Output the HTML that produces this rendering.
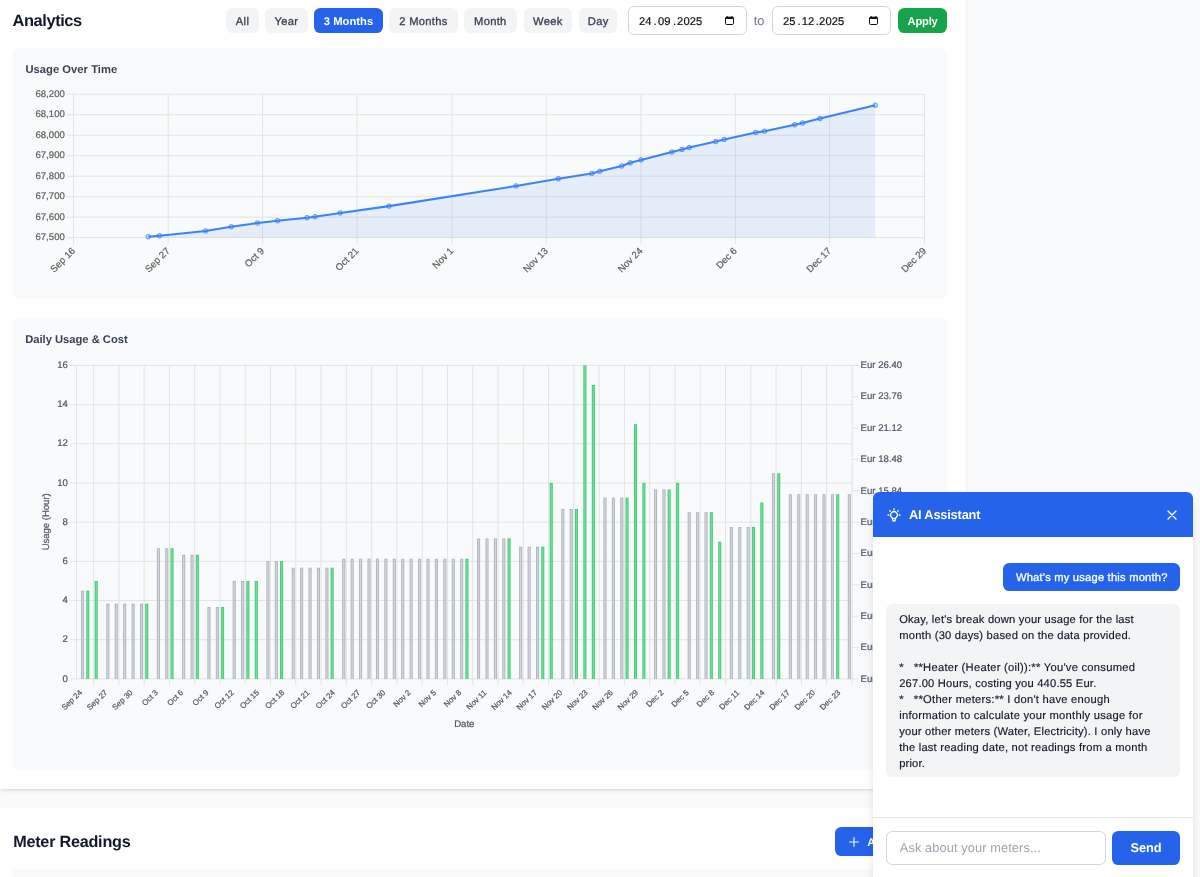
<!DOCTYPE html>
<html lang="en"><head><meta charset="utf-8"><title>Analytics</title>
<style>
*{box-sizing:border-box;margin:0;padding:0}
html,body{width:1200px;height:877px;overflow:hidden}
body{text-rendering:geometricPrecision;background:#f9fafb;font-family:"Liberation Sans", sans-serif;position:relative;color:#111827}
.t{position:absolute;white-space:pre}
.panel{position:absolute;background:#fff}
.card{position:absolute;background:#f9fafb;border-radius:6.4px}
.btn{position:absolute;top:7.8px;height:25px;border-radius:6.4px;background:#f3f4f6;color:#374151;font-size:11.2px;line-height:28.6px;text-align:center;white-space:pre;letter-spacing:0.3px;-webkit-text-stroke:0.3px #374151}
.btn.on{background:#2563eb;color:#fff;font-weight:700;letter-spacing:0.05px;-webkit-text-stroke:0}
.date{position:absolute;top:6.2px;height:28.6px;border:1px solid #d1d5db;border-radius:6px;background:#fff}
svg{position:absolute;left:0;top:0;overflow:visible}
svg text{font-family:"Liberation Sans", sans-serif;text-rendering:geometricPrecision;stroke-width:0.2px;paint-order:stroke}
svg .c1 text{stroke:#5c5c5c}
svg .c2 text{stroke:#4b5563}
</style></head><body>

<div class="panel" style="left:0;top:-20px;width:966px;height:809.2px;box-shadow:0 3.2px 4.8px -0.8px rgba(0,0,0,.1),0 1.6px 3.2px -1.6px rgba(0,0,0,.1)"></div>
<div class="panel" style="left:0;top:807.8px;width:966px;height:120px;box-shadow:0 3.2px 4.8px -0.8px rgba(0,0,0,.1),0 1.6px 3.2px -1.6px rgba(0,0,0,.1)"></div>
<div class="t" style="left:12.60px;top:9.02px;font-size:16.40px;line-height:24.60px;font-weight:700;color:#111827;letter-spacing:-0.415px;">Analytics</div>
<div class="btn" style="left:226.0px;width:33.0px">All</div>
<div class="btn" style="left:265.0px;width:42.8px">Year</div>
<div class="btn on" style="left:314.0px;width:69.0px">3 Months</div>
<div class="btn" style="left:389.3px;width:68.4px">2 Months</div>
<div class="btn" style="left:464.0px;width:52.7px">Month</div>
<div class="btn" style="left:524.0px;width:47.7px">Week</div>
<div class="btn" style="left:579.0px;width:38.3px">Day</div>
<div class="date" style="left:627.8px;width:118.8px">
<svg width="9" height="9" viewBox="0 0 9 9" style="left:96.3px;top:9.3px"><rect x="0.5" y="1.2" width="8" height="7.3" rx="1.2" fill="none" stroke="#111" stroke-width="1"/><rect x="0.5" y="1" width="8" height="2" fill="#111"/><rect x="1.6" y="0" width="1.1" height="1.6" fill="#111"/><rect x="6.3" y="0" width="1.1" height="1.6" fill="#111"/></svg>
</div>
<div class="date" style="left:771.8px;width:118.8px">
<svg width="9" height="9" viewBox="0 0 9 9" style="left:96.3px;top:9.3px"><rect x="0.5" y="1.2" width="8" height="7.3" rx="1.2" fill="none" stroke="#111" stroke-width="1"/><rect x="0.5" y="1" width="8" height="2" fill="#111"/><rect x="1.6" y="0" width="1.1" height="1.6" fill="#111"/><rect x="6.3" y="0" width="1.1" height="1.6" fill="#111"/></svg>
</div>
<div class="t" style="left:639.10px;top:14.12px;font-size:11.2px;line-height:16px;color:#111;-webkit-text-stroke:0.2px #111;">24<span style="margin:0 1.40px 0 1.94px">.</span>09<span style="margin:0 1.00px 0 2.54px">.</span><span style="letter-spacing:0.12px">2025</span></div>
<div class="t" style="left:783.10px;top:14.12px;font-size:11.2px;line-height:16px;color:#111;-webkit-text-stroke:0.2px #111;">25<span style="margin:0 1.20px 0 1.94px">.</span>12<span style="margin:0 0.20px 0 1.54px">.</span><span style="letter-spacing:0.12px">2025</span></div>
<div class="t" style="left:753.80px;top:10.96px;font-size:12.80px;line-height:19.20px;color:#6b7280;">to</div>
<div class="btn" style="left:898.2px;width:48.8px;background:#16a34a;color:#fff;font-weight:700;letter-spacing:-0.2px;-webkit-text-stroke:0">Apply</div>
<div class="card" style="left:13px;top:48px;width:933.8px;height:250.5px"></div>
<div class="card" style="left:13px;top:318px;width:933.8px;height:451.6px"></div>
<div class="card" style="left:13px;top:869.2px;width:933.8px;height:60px;border-radius:0"></div>
<div class="t" style="left:25.40px;top:61.52px;font-size:11.20px;line-height:16.80px;font-weight:700;color:#374151;letter-spacing:0.042px;">Usage Over Time</div>
<div class="t" style="left:25.20px;top:331.52px;font-size:11.20px;line-height:16.80px;font-weight:700;color:#374151;letter-spacing:-0.006px;">Daily Usage &amp; Cost</div>
<div class="t" style="left:13.20px;top:830.04px;font-size:16.20px;line-height:24.30px;font-weight:700;color:#111827;letter-spacing:-0.233px;">Meter Readings</div>
<div style="position:absolute;left:835px;top:827px;width:120px;height:29px;border-radius:6.4px;background:#2563eb"></div>
<svg width="12" height="12" viewBox="0 0 12 12" style="left:848.3px;top:835.5px"><path d="M6 1.2v9.6M1.2 6h9.6" stroke="#fff" stroke-width="1.1" fill="none"/></svg>
<div class="t" style="left:867.30px;top:835.42px;font-size:11.20px;line-height:16.80px;font-weight:700;color:#fff;">Add Reading</div>
<svg width="1200" height="877" viewBox="0 0 1200 877">
<g class="c1">
<path d="M67.10 94.30H924.50M67.10 114.77H924.50M67.10 135.24H924.50M67.10 155.71H924.50M67.10 176.19H924.50M67.10 196.66H924.50M67.10 217.13H924.50M67.10 237.60H924.50M73.50 94.30V244.00M168.20 94.30V244.00M262.55 94.30V244.00M357.00 94.30V244.00M451.85 94.30V244.00M546.25 94.30V244.00M640.95 94.30V244.00M735.40 94.30V244.00M829.55 94.30V244.00M924.50 94.30V244.00" stroke="#dbdcde" stroke-width="0.75" fill="none"/>
<polygon points="148.25,236.75 159.50,235.75 205.50,231.00 231.25,226.75 257.50,223.00 277.50,220.75 307.00,217.75 315.00,216.75 340.25,213.00 389.00,206.10 516.00,186.00 558.25,178.75 591.75,173.50 599.75,171.25 621.75,166.00 630.25,162.75 641.00,159.90 671.90,152.00 682.00,149.50 689.25,147.50 715.75,141.50 724.25,139.50 755.75,132.50 764.50,131.25 794.75,124.75 802.50,123.00 820.00,118.50 875.25,105.25 875.25,237.60 148.25,237.60" fill="rgba(59,130,246,0.1)"/>
<polyline points="148.25,236.75 159.50,235.75 205.50,231.00 231.25,226.75 257.50,223.00 277.50,220.75 307.00,217.75 315.00,216.75 340.25,213.00 389.00,206.10 516.00,186.00 558.25,178.75 591.75,173.50 599.75,171.25 621.75,166.00 630.25,162.75 641.00,159.90 671.90,152.00 682.00,149.50 689.25,147.50 715.75,141.50 724.25,139.50 755.75,132.50 764.50,131.25 794.75,124.75 802.50,123.00 820.00,118.50 875.25,105.25" fill="none" stroke="#3b82f6" stroke-width="2.1" stroke-linejoin="round"/>
<circle cx="148.25" cy="236.75" r="2.3" fill="rgba(59,130,246,0.25)" stroke="#3b82f6" stroke-width="0.8"/>
<circle cx="159.50" cy="235.75" r="2.3" fill="rgba(59,130,246,0.25)" stroke="#3b82f6" stroke-width="0.8"/>
<circle cx="205.50" cy="231.00" r="2.3" fill="rgba(59,130,246,0.25)" stroke="#3b82f6" stroke-width="0.8"/>
<circle cx="231.25" cy="226.75" r="2.3" fill="rgba(59,130,246,0.25)" stroke="#3b82f6" stroke-width="0.8"/>
<circle cx="257.50" cy="223.00" r="2.3" fill="rgba(59,130,246,0.25)" stroke="#3b82f6" stroke-width="0.8"/>
<circle cx="277.50" cy="220.75" r="2.3" fill="rgba(59,130,246,0.25)" stroke="#3b82f6" stroke-width="0.8"/>
<circle cx="307.00" cy="217.75" r="2.3" fill="rgba(59,130,246,0.25)" stroke="#3b82f6" stroke-width="0.8"/>
<circle cx="315.00" cy="216.75" r="2.3" fill="rgba(59,130,246,0.25)" stroke="#3b82f6" stroke-width="0.8"/>
<circle cx="340.25" cy="213.00" r="2.3" fill="rgba(59,130,246,0.25)" stroke="#3b82f6" stroke-width="0.8"/>
<circle cx="389.00" cy="206.10" r="2.3" fill="rgba(59,130,246,0.25)" stroke="#3b82f6" stroke-width="0.8"/>
<circle cx="516.00" cy="186.00" r="2.3" fill="rgba(59,130,246,0.25)" stroke="#3b82f6" stroke-width="0.8"/>
<circle cx="558.25" cy="178.75" r="2.3" fill="rgba(59,130,246,0.25)" stroke="#3b82f6" stroke-width="0.8"/>
<circle cx="591.75" cy="173.50" r="2.3" fill="rgba(59,130,246,0.25)" stroke="#3b82f6" stroke-width="0.8"/>
<circle cx="599.75" cy="171.25" r="2.3" fill="rgba(59,130,246,0.25)" stroke="#3b82f6" stroke-width="0.8"/>
<circle cx="621.75" cy="166.00" r="2.3" fill="rgba(59,130,246,0.25)" stroke="#3b82f6" stroke-width="0.8"/>
<circle cx="630.25" cy="162.75" r="2.3" fill="rgba(59,130,246,0.25)" stroke="#3b82f6" stroke-width="0.8"/>
<circle cx="641.00" cy="159.90" r="2.3" fill="rgba(59,130,246,0.25)" stroke="#3b82f6" stroke-width="0.8"/>
<circle cx="671.90" cy="152.00" r="2.3" fill="rgba(59,130,246,0.25)" stroke="#3b82f6" stroke-width="0.8"/>
<circle cx="682.00" cy="149.50" r="2.3" fill="rgba(59,130,246,0.25)" stroke="#3b82f6" stroke-width="0.8"/>
<circle cx="689.25" cy="147.50" r="2.3" fill="rgba(59,130,246,0.25)" stroke="#3b82f6" stroke-width="0.8"/>
<circle cx="715.75" cy="141.50" r="2.3" fill="rgba(59,130,246,0.25)" stroke="#3b82f6" stroke-width="0.8"/>
<circle cx="724.25" cy="139.50" r="2.3" fill="rgba(59,130,246,0.25)" stroke="#3b82f6" stroke-width="0.8"/>
<circle cx="755.75" cy="132.50" r="2.3" fill="rgba(59,130,246,0.25)" stroke="#3b82f6" stroke-width="0.8"/>
<circle cx="764.50" cy="131.25" r="2.3" fill="rgba(59,130,246,0.25)" stroke="#3b82f6" stroke-width="0.8"/>
<circle cx="794.75" cy="124.75" r="2.3" fill="rgba(59,130,246,0.25)" stroke="#3b82f6" stroke-width="0.8"/>
<circle cx="802.50" cy="123.00" r="2.3" fill="rgba(59,130,246,0.25)" stroke="#3b82f6" stroke-width="0.8"/>
<circle cx="820.00" cy="118.50" r="2.3" fill="rgba(59,130,246,0.25)" stroke="#3b82f6" stroke-width="0.8"/>
<circle cx="875.25" cy="105.25" r="2.3" fill="rgba(59,130,246,0.25)" stroke="#3b82f6" stroke-width="0.8"/>
<text x="64.8" y="97.00" text-anchor="end" font-size="9.6" fill="#5c5c5c">68,200</text>
<text x="64.8" y="117.47" text-anchor="end" font-size="9.6" fill="#5c5c5c">68,100</text>
<text x="64.8" y="137.94" text-anchor="end" font-size="9.6" fill="#5c5c5c">68,000</text>
<text x="64.8" y="158.41" text-anchor="end" font-size="9.6" fill="#5c5c5c">67,900</text>
<text x="64.8" y="178.89" text-anchor="end" font-size="9.6" fill="#5c5c5c">67,800</text>
<text x="64.8" y="199.36" text-anchor="end" font-size="9.6" fill="#5c5c5c">67,700</text>
<text x="64.8" y="219.83" text-anchor="end" font-size="9.6" fill="#5c5c5c">67,600</text>
<text x="64.8" y="240.30" text-anchor="end" font-size="9.6" fill="#5c5c5c">67,500</text>
<text transform="translate(73.30 249.00) rotate(-45)" y="3.4" text-anchor="end" font-size="9.6" fill="#5c5c5c">Sep 16</text>
<text transform="translate(168.00 249.00) rotate(-45)" y="3.4" text-anchor="end" font-size="9.6" fill="#5c5c5c">Sep 27</text>
<text transform="translate(262.35 249.00) rotate(-45)" y="3.4" text-anchor="end" font-size="9.6" fill="#5c5c5c">Oct 9</text>
<text transform="translate(356.80 249.00) rotate(-45)" y="3.4" text-anchor="end" font-size="9.6" fill="#5c5c5c">Oct 21</text>
<text transform="translate(451.65 249.00) rotate(-45)" y="3.4" text-anchor="end" font-size="9.6" fill="#5c5c5c">Nov 1</text>
<text transform="translate(546.05 249.00) rotate(-45)" y="3.4" text-anchor="end" font-size="9.6" fill="#5c5c5c">Nov 13</text>
<text transform="translate(640.75 249.00) rotate(-45)" y="3.4" text-anchor="end" font-size="9.6" fill="#5c5c5c">Nov 24</text>
<text transform="translate(735.20 249.00) rotate(-45)" y="3.4" text-anchor="end" font-size="9.6" fill="#5c5c5c">Dec 6</text>
<text transform="translate(829.35 249.00) rotate(-45)" y="3.4" text-anchor="end" font-size="9.6" fill="#5c5c5c">Dec 17</text>
<text transform="translate(924.30 249.00) rotate(-45)" y="3.4" text-anchor="end" font-size="9.6" fill="#5c5c5c">Dec 29</text>
</g><g class="c2">
<path d="M70.10 365.40H852.20M70.10 404.59H852.20M70.10 443.77H852.20M70.10 482.96H852.20M70.10 522.15H852.20M70.10 561.34H852.20M70.10 600.52H852.20M70.10 639.71H852.20M70.10 678.90H852.20M852.20 365.40H858.60M852.20 396.75H858.60M852.20 428.10H858.60M852.20 459.45H858.60M852.20 490.80H858.60M852.20 522.15H858.60M852.20 553.50H858.60M852.20 584.85H858.60M852.20 616.20H858.60M852.20 647.55H858.60M852.20 678.90H858.60M76.50 365.40V678.90M852.20 365.40V685.30M93.59 365.40V685.30M118.87 365.40V685.30M144.14 365.40V685.30M169.42 365.40V685.30M194.70 365.40V685.30M219.98 365.40V685.30M245.26 365.40V685.30M270.53 365.40V685.30M295.81 365.40V685.30M321.09 365.40V685.30M346.37 365.40V685.30M371.65 365.40V685.30M396.92 365.40V685.30M422.20 365.40V685.30M447.48 365.40V685.30M472.76 365.40V685.30M498.04 365.40V685.30M523.31 365.40V685.30M548.59 365.40V685.30M573.87 365.40V685.30M599.15 365.40V685.30M624.43 365.40V685.30M649.71 365.40V685.30M674.98 365.40V685.30M700.26 365.40V685.30M725.54 365.40V685.30M750.82 365.40V685.30M776.10 365.40V685.30M801.37 365.40V685.30M826.65 365.40V685.30" stroke="#dbdcde" stroke-width="0.75" fill="none"/>
<path d="M81.03 678.90H84.07V590.73H81.03ZM106.31 678.90H109.35V603.86H106.31ZM114.73 678.90H117.77V603.86H114.73ZM123.16 678.90H126.20V603.86H123.16ZM131.59 678.90H134.63V603.86H131.59ZM140.01 678.90H143.05V603.86H140.01ZM156.86 678.90H159.90V548.21H156.86ZM165.29 678.90H168.33V548.21H165.29ZM182.14 678.90H185.18V554.87H182.14ZM190.57 678.90H193.61V554.87H190.57ZM207.42 678.90H210.46V606.99H207.42ZM215.85 678.90H218.89V606.99H215.85ZM232.70 678.90H235.74V580.93H232.70ZM241.12 678.90H244.16V580.93H241.12ZM266.40 678.90H269.44V561.34H266.40ZM274.83 678.90H277.87V561.34H274.83ZM291.68 678.90H294.72V567.80H291.68ZM300.11 678.90H303.15V567.80H300.11ZM308.53 678.90H311.57V567.80H308.53ZM316.96 678.90H320.00V567.80H316.96ZM325.38 678.90H328.42V567.80H325.38ZM342.24 678.90H345.28V558.79H342.24ZM350.66 678.90H353.70V558.79H350.66ZM359.09 678.90H362.13V558.79H359.09ZM367.51 678.90H370.55V558.79H367.51ZM375.94 678.90H378.98V558.79H375.94ZM384.37 678.90H387.41V558.79H384.37ZM392.79 678.90H395.83V558.79H392.79ZM401.22 678.90H404.26V558.79H401.22ZM409.64 678.90H412.68V558.79H409.64ZM418.07 678.90H421.11V558.79H418.07ZM426.50 678.90H429.54V558.79H426.50ZM434.92 678.90H437.96V558.79H434.92ZM443.35 678.90H446.39V558.79H443.35ZM451.77 678.90H454.81V558.79H451.77ZM460.20 678.90H463.24V558.79H460.20ZM477.05 678.90H480.09V538.41H477.05ZM485.48 678.90H488.52V538.41H485.48ZM493.90 678.90H496.94V538.41H493.90ZM502.33 678.90H505.37V538.41H502.33ZM519.18 678.90H522.22V546.64H519.18ZM527.61 678.90H530.65V546.64H527.61ZM536.03 678.90H539.07V546.64H536.03ZM561.31 678.90H564.35V509.02H561.31ZM569.74 678.90H572.78V509.02H569.74ZM603.44 678.90H606.48V497.66H603.44ZM611.87 678.90H614.91V497.66H611.87ZM620.29 678.90H623.33V497.66H620.29ZM654.00 678.90H657.04V489.43H654.00ZM662.42 678.90H665.46V489.43H662.42ZM687.70 678.90H690.74V512.35H687.70ZM696.13 678.90H699.17V512.35H696.13ZM704.55 678.90H707.59V512.35H704.55ZM729.83 678.90H732.87V527.05H729.83ZM738.26 678.90H741.30V527.05H738.26ZM746.68 678.90H749.72V527.05H746.68ZM771.96 678.90H775.00V473.17H771.96ZM788.81 678.90H791.85V494.13H788.81ZM797.24 678.90H800.28V494.13H797.24ZM805.67 678.90H808.71V494.13H805.67ZM814.09 678.90H817.13V494.13H814.09ZM822.52 678.90H825.56V494.13H822.52ZM830.94 678.90H833.98V494.13H830.94ZM847.80 678.90H850.84V494.13H847.80Z" fill="rgba(156,163,175,0.85)"/>
<path d="M81.83 678.90H83.27V591.53H81.83ZM107.11 678.90H108.55V604.66H107.11ZM115.53 678.90H116.97V604.66H115.53ZM123.96 678.90H125.40V604.66H123.96ZM132.39 678.90H133.83V604.66H132.39ZM140.81 678.90H142.25V604.66H140.81ZM157.66 678.90H159.10V549.01H157.66ZM166.09 678.90H167.53V549.01H166.09ZM182.94 678.90H184.38V555.67H182.94ZM191.37 678.90H192.81V555.67H191.37ZM208.22 678.90H209.66V607.79H208.22ZM216.65 678.90H218.09V607.79H216.65ZM233.50 678.90H234.94V581.73H233.50ZM241.92 678.90H243.36V581.73H241.92ZM267.20 678.90H268.64V562.14H267.20ZM275.63 678.90H277.07V562.14H275.63ZM292.48 678.90H293.92V568.60H292.48ZM300.91 678.90H302.35V568.60H300.91ZM309.33 678.90H310.77V568.60H309.33ZM317.76 678.90H319.20V568.60H317.76ZM326.18 678.90H327.62V568.60H326.18ZM343.04 678.90H344.48V559.59H343.04ZM351.46 678.90H352.90V559.59H351.46ZM359.89 678.90H361.33V559.59H359.89ZM368.31 678.90H369.75V559.59H368.31ZM376.74 678.90H378.18V559.59H376.74ZM385.17 678.90H386.61V559.59H385.17ZM393.59 678.90H395.03V559.59H393.59ZM402.02 678.90H403.46V559.59H402.02ZM410.44 678.90H411.88V559.59H410.44ZM418.87 678.90H420.31V559.59H418.87ZM427.30 678.90H428.74V559.59H427.30ZM435.72 678.90H437.16V559.59H435.72ZM444.15 678.90H445.59V559.59H444.15ZM452.57 678.90H454.01V559.59H452.57ZM461.00 678.90H462.44V559.59H461.00ZM477.85 678.90H479.29V539.21H477.85ZM486.28 678.90H487.72V539.21H486.28ZM494.70 678.90H496.14V539.21H494.70ZM503.13 678.90H504.57V539.21H503.13ZM519.98 678.90H521.42V547.44H519.98ZM528.41 678.90H529.85V547.44H528.41ZM536.83 678.90H538.27V547.44H536.83ZM562.11 678.90H563.55V509.82H562.11ZM570.54 678.90H571.98V509.82H570.54ZM604.24 678.90H605.68V498.46H604.24ZM612.67 678.90H614.11V498.46H612.67ZM621.09 678.90H622.53V498.46H621.09ZM654.80 678.90H656.24V490.23H654.80ZM663.22 678.90H664.66V490.23H663.22ZM688.50 678.90H689.94V513.15H688.50ZM696.93 678.90H698.37V513.15H696.93ZM705.35 678.90H706.79V513.15H705.35ZM730.63 678.90H732.07V527.85H730.63ZM739.06 678.90H740.50V527.85H739.06ZM747.48 678.90H748.92V527.85H747.48ZM772.76 678.90H774.20V473.97H772.76ZM789.61 678.90H791.05V494.93H789.61ZM798.04 678.90H799.48V494.93H798.04ZM806.47 678.90H807.91V494.93H806.47ZM814.89 678.90H816.33V494.93H814.89ZM823.32 678.90H824.76V494.93H823.32ZM831.74 678.90H833.18V494.93H831.74ZM848.60 678.90H850.04V494.93H848.60Z" fill="#d1d4db"/>
<path d="M86.26 678.90H89.30V590.73H86.26ZM94.68 678.90H97.72V580.93H94.68ZM145.24 678.90H148.28V603.86H145.24ZM170.52 678.90H173.56V548.21H170.52ZM195.79 678.90H198.83V554.87H195.79ZM221.07 678.90H224.11V606.99H221.07ZM246.35 678.90H249.39V580.93H246.35ZM254.78 678.90H257.82V580.93H254.78ZM280.05 678.90H283.09V561.34H280.05ZM330.61 678.90H333.65V567.80H330.61ZM465.43 678.90H468.47V558.79H465.43ZM507.56 678.90H510.60V538.41H507.56ZM541.26 678.90H544.30V546.64H541.26ZM549.69 678.90H552.73V482.96H549.69ZM574.96 678.90H578.00V509.02H574.96ZM583.39 678.90H586.43V365.40H583.39ZM591.82 678.90H594.86V384.99H591.82ZM625.52 678.90H628.56V497.66H625.52ZM633.95 678.90H636.99V424.18H633.95ZM642.37 678.90H645.41V482.96H642.37ZM667.65 678.90H670.69V489.43H667.65ZM676.08 678.90H679.12V482.96H676.08ZM709.78 678.90H712.82V512.35H709.78ZM718.21 678.90H721.25V541.74H718.21ZM751.91 678.90H754.95V527.05H751.91ZM760.34 678.90H763.38V502.56H760.34ZM777.19 678.90H780.23V473.17H777.19ZM836.17 678.90H839.21V494.13H836.17Z" fill="rgba(34,197,94,0.9)"/>
<path d="M87.06 678.90H88.50V591.53H87.06ZM95.48 678.90H96.92V581.73H95.48ZM146.04 678.90H147.48V604.66H146.04ZM171.32 678.90H172.76V549.01H171.32ZM196.59 678.90H198.03V555.67H196.59ZM221.87 678.90H223.31V607.79H221.87ZM247.15 678.90H248.59V581.73H247.15ZM255.58 678.90H257.02V581.73H255.58ZM280.85 678.90H282.29V562.14H280.85ZM331.41 678.90H332.85V568.60H331.41ZM466.23 678.90H467.67V559.59H466.23ZM508.36 678.90H509.80V539.21H508.36ZM542.06 678.90H543.50V547.44H542.06ZM550.49 678.90H551.93V483.76H550.49ZM575.76 678.90H577.20V509.82H575.76ZM584.19 678.90H585.63V366.20H584.19ZM592.62 678.90H594.06V385.79H592.62ZM626.32 678.90H627.76V498.46H626.32ZM634.75 678.90H636.19V424.98H634.75ZM643.17 678.90H644.61V483.76H643.17ZM668.45 678.90H669.89V490.23H668.45ZM676.88 678.90H678.32V483.76H676.88ZM710.58 678.90H712.02V513.15H710.58ZM719.01 678.90H720.45V542.54H719.01ZM752.71 678.90H754.15V527.85H752.71ZM761.14 678.90H762.58V503.36H761.14ZM777.99 678.90H779.43V473.97H777.99ZM836.97 678.90H838.41V494.93H836.97Z" fill="#76d99d"/>
<text x="67.8" y="368.10" text-anchor="end" font-size="9.6" fill="#4b5563">16</text>
<text x="67.8" y="407.29" text-anchor="end" font-size="9.6" fill="#4b5563">14</text>
<text x="67.8" y="446.47" text-anchor="end" font-size="9.6" fill="#4b5563">12</text>
<text x="67.8" y="485.66" text-anchor="end" font-size="9.6" fill="#4b5563">10</text>
<text x="67.8" y="524.85" text-anchor="end" font-size="9.6" fill="#4b5563">8</text>
<text x="67.8" y="564.04" text-anchor="end" font-size="9.6" fill="#4b5563">6</text>
<text x="67.8" y="603.23" text-anchor="end" font-size="9.6" fill="#4b5563">4</text>
<text x="67.8" y="642.41" text-anchor="end" font-size="9.6" fill="#4b5563">2</text>
<text x="67.8" y="681.60" text-anchor="end" font-size="9.6" fill="#4b5563">0</text>
<text x="860.6" y="368.10" font-size="9.6" fill="#4b5563">Eur 26.40</text>
<text x="860.6" y="399.45" font-size="9.6" fill="#4b5563">Eur 23.76</text>
<text x="860.6" y="430.80" font-size="9.6" fill="#4b5563">Eur 21.12</text>
<text x="860.6" y="462.15" font-size="9.6" fill="#4b5563">Eur 18.48</text>
<text x="860.6" y="493.50" font-size="9.6" fill="#4b5563">Eur 15.84</text>
<text x="860.6" y="524.85" font-size="9.6" fill="#4b5563">Eur 13.20</text>
<text x="860.6" y="556.20" font-size="9.6" fill="#4b5563">Eur 10.56</text>
<text x="860.6" y="587.55" font-size="9.6" fill="#4b5563">Eur 7.92</text>
<text x="860.6" y="618.90" font-size="9.6" fill="#4b5563">Eur 5.28</text>
<text x="860.6" y="650.25" font-size="9.6" fill="#4b5563">Eur 2.64</text>
<text x="860.6" y="681.60" font-size="9.6" fill="#4b5563">Eur -0.00</text>
<text transform="translate(80.65 691.10) rotate(-44)" y="2.9" text-anchor="end" font-size="7.9" fill="#4b5563">Sep 24</text>
<text transform="translate(105.93 691.10) rotate(-44)" y="2.9" text-anchor="end" font-size="7.9" fill="#4b5563">Sep 27</text>
<text transform="translate(131.21 691.10) rotate(-44)" y="2.9" text-anchor="end" font-size="7.9" fill="#4b5563">Sep 30</text>
<text transform="translate(156.48 691.10) rotate(-44)" y="2.9" text-anchor="end" font-size="7.9" fill="#4b5563">Oct 3</text>
<text transform="translate(181.76 691.10) rotate(-44)" y="2.9" text-anchor="end" font-size="7.9" fill="#4b5563">Oct 6</text>
<text transform="translate(207.04 691.10) rotate(-44)" y="2.9" text-anchor="end" font-size="7.9" fill="#4b5563">Oct 9</text>
<text transform="translate(232.32 691.10) rotate(-44)" y="2.9" text-anchor="end" font-size="7.9" fill="#4b5563">Oct 12</text>
<text transform="translate(257.60 691.10) rotate(-44)" y="2.9" text-anchor="end" font-size="7.9" fill="#4b5563">Oct 15</text>
<text transform="translate(282.87 691.10) rotate(-44)" y="2.9" text-anchor="end" font-size="7.9" fill="#4b5563">Oct 18</text>
<text transform="translate(308.15 691.10) rotate(-44)" y="2.9" text-anchor="end" font-size="7.9" fill="#4b5563">Oct 21</text>
<text transform="translate(333.43 691.10) rotate(-44)" y="2.9" text-anchor="end" font-size="7.9" fill="#4b5563">Oct 24</text>
<text transform="translate(358.71 691.10) rotate(-44)" y="2.9" text-anchor="end" font-size="7.9" fill="#4b5563">Oct 27</text>
<text transform="translate(383.99 691.10) rotate(-44)" y="2.9" text-anchor="end" font-size="7.9" fill="#4b5563">Oct 30</text>
<text transform="translate(409.26 691.10) rotate(-44)" y="2.9" text-anchor="end" font-size="7.9" fill="#4b5563">Nov 2</text>
<text transform="translate(434.54 691.10) rotate(-44)" y="2.9" text-anchor="end" font-size="7.9" fill="#4b5563">Nov 5</text>
<text transform="translate(459.82 691.10) rotate(-44)" y="2.9" text-anchor="end" font-size="7.9" fill="#4b5563">Nov 8</text>
<text transform="translate(485.10 691.10) rotate(-44)" y="2.9" text-anchor="end" font-size="7.9" fill="#4b5563">Nov 11</text>
<text transform="translate(510.38 691.10) rotate(-44)" y="2.9" text-anchor="end" font-size="7.9" fill="#4b5563">Nov 14</text>
<text transform="translate(535.65 691.10) rotate(-44)" y="2.9" text-anchor="end" font-size="7.9" fill="#4b5563">Nov 17</text>
<text transform="translate(560.93 691.10) rotate(-44)" y="2.9" text-anchor="end" font-size="7.9" fill="#4b5563">Nov 20</text>
<text transform="translate(586.21 691.10) rotate(-44)" y="2.9" text-anchor="end" font-size="7.9" fill="#4b5563">Nov 23</text>
<text transform="translate(611.49 691.10) rotate(-44)" y="2.9" text-anchor="end" font-size="7.9" fill="#4b5563">Nov 26</text>
<text transform="translate(636.77 691.10) rotate(-44)" y="2.9" text-anchor="end" font-size="7.9" fill="#4b5563">Nov 29</text>
<text transform="translate(662.04 691.10) rotate(-44)" y="2.9" text-anchor="end" font-size="7.9" fill="#4b5563">Dec 2</text>
<text transform="translate(687.32 691.10) rotate(-44)" y="2.9" text-anchor="end" font-size="7.9" fill="#4b5563">Dec 5</text>
<text transform="translate(712.60 691.10) rotate(-44)" y="2.9" text-anchor="end" font-size="7.9" fill="#4b5563">Dec 8</text>
<text transform="translate(737.88 691.10) rotate(-44)" y="2.9" text-anchor="end" font-size="7.9" fill="#4b5563">Dec 11</text>
<text transform="translate(763.16 691.10) rotate(-44)" y="2.9" text-anchor="end" font-size="7.9" fill="#4b5563">Dec 14</text>
<text transform="translate(788.43 691.10) rotate(-44)" y="2.9" text-anchor="end" font-size="7.9" fill="#4b5563">Dec 17</text>
<text transform="translate(813.71 691.10) rotate(-44)" y="2.9" text-anchor="end" font-size="7.9" fill="#4b5563">Dec 20</text>
<text transform="translate(838.99 691.10) rotate(-44)" y="2.9" text-anchor="end" font-size="7.9" fill="#4b5563">Dec 23</text>
<text x="464.3" y="726.9" text-anchor="middle" font-size="9.6" fill="#4b5563">Date</text>
<text transform="translate(48.7 521.8) rotate(-90)" text-anchor="middle" font-size="9.5" fill="#4b5563">Usage (Hour)</text>
</g></svg>
<div style="position:absolute;left:872.8px;top:492.2px;width:320.2px;height:400px;background:#fff;border-radius:6.4px 6.4px 0 0;box-shadow:0 8px 12px -2px rgba(0,0,0,.15),0 3.2px 4.8px -3.2px rgba(0,0,0,.1);overflow:hidden">
<div style="position:absolute;left:0;top:0;width:100%;height:44.5px;background:#2563eb"></div>
<svg width="16" height="16" viewBox="0 0 24 24" style="left:13px;top:15.3px" fill="none" stroke="#fff" stroke-width="2" stroke-linecap="round" stroke-linejoin="round"><path d="M9.663 17h4.673M12 3v1m6.364 1.636l-.707.707M21 12h-1M4 12H3m3.343-5.657l-.707-.707m2.828 9.9a5 5 0 117.072 0l-.548.547A3.374 3.374 0 0014 18.469V19a2 2 0 11-4 0v-.531c0-.895-.356-1.754-.988-2.386l-.548-.547z"/></svg>
<svg width="16" height="16" viewBox="0 0 24 24" style="left:291.2px;top:14.9px" fill="none" stroke="#fff" stroke-width="2" stroke-linecap="round" stroke-linejoin="round"><path d="M6 18L18 6M6 6l12 12"/></svg>
<div class="t" style="left:36.2px;top:12.7px;font-size:12.8px;line-height:19.2px;font-weight:700;color:#fff;letter-spacing:-0.182px">AI Assistant</div>
<div style="position:absolute;left:130.3px;top:70.9px;width:176.8px;height:27.8px;border-radius:6.4px;background:#2563eb"></div>
<div class="t" style="left:143.1px;top:77.4px;font-size:11.2px;line-height:16px;color:#fff;-webkit-text-stroke:0.3px #fff;letter-spacing:0.198px">What's my usage this month?</div>
<div style="position:absolute;left:13.1px;top:111.7px;width:294.1px;height:172.7px;border-radius:6.4px;background:#f3f4f6"></div>
<div class="t" style="left:26.4px;top:120.2px;font-size:11.2px;line-height:16px;color:#111827;-webkit-text-stroke:0.15px #111827;letter-spacing:0.192px">Okay, let's break down your usage for the last</div>
<div class="t" style="left:26.4px;top:136.2px;font-size:11.2px;line-height:16px;color:#111827;-webkit-text-stroke:0.15px #111827;letter-spacing:0.217px">month (30 days) based on the data provided.</div>
<div class="t" style="left:26.4px;top:168.2px;font-size:11.2px;line-height:16px;color:#111827;-webkit-text-stroke:0.15px #111827;letter-spacing:0.258px">*   **Heater (Heater (oil)):** You've consumed</div>
<div class="t" style="left:26.4px;top:184.2px;font-size:11.2px;line-height:16px;color:#111827;-webkit-text-stroke:0.15px #111827;letter-spacing:0.188px">267.00 Hours, costing you 440.55 Eur.</div>
<div class="t" style="left:26.4px;top:200.2px;font-size:11.2px;line-height:16px;color:#111827;-webkit-text-stroke:0.15px #111827;letter-spacing:0.249px">*   **Other meters:** I don't have enough</div>
<div class="t" style="left:26.4px;top:216.2px;font-size:11.2px;line-height:16px;color:#111827;-webkit-text-stroke:0.15px #111827;letter-spacing:0.245px">information to calculate your monthly usage for</div>
<div class="t" style="left:26.4px;top:232.2px;font-size:11.2px;line-height:16px;color:#111827;-webkit-text-stroke:0.15px #111827;letter-spacing:0.196px">your other meters (Water, Electricity). I only have</div>
<div class="t" style="left:26.4px;top:248.2px;font-size:11.2px;line-height:16px;color:#111827;-webkit-text-stroke:0.15px #111827;letter-spacing:0.209px">the last reading date, not readings from a month</div>
<div class="t" style="left:26.4px;top:264.2px;font-size:11.2px;line-height:16px;color:#111827;-webkit-text-stroke:0.15px #111827;letter-spacing:0.140px">prior.</div>
<div style="position:absolute;left:0;top:324.8px;width:100%;height:0.8px;background:#e5e7eb"></div>
<div style="position:absolute;left:13.4px;top:339px;width:219.4px;height:33.5px;border:1px solid #d1d5db;border-radius:6.4px;background:#fff"></div>
<div class="t" style="left:27px;top:345.6px;font-size:12.8px;line-height:19.2px;color:#9ca3af;letter-spacing:0.099px">Ask about your meters...</div>
<div style="position:absolute;left:239.3px;top:339px;width:67.9px;height:33.5px;border-radius:6.4px;background:#2563eb;color:#fff;font-weight:700;font-size:12.8px;line-height:33.5px;text-align:center">Send</div>
</div>
</body></html>
